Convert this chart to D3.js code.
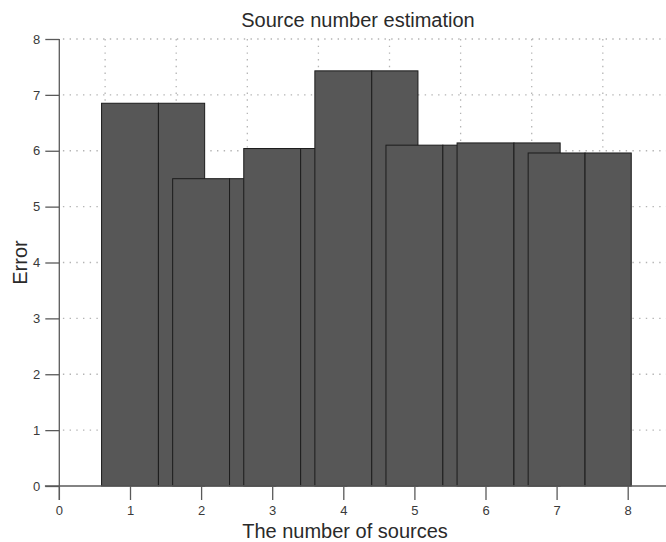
<!DOCTYPE html>
<html>
<head>
<meta charset="utf-8">
<script src="https://cdn.jsdelivr.net/npm/d3@7/dist/d3.min.js"></script>
<style>
  html, body { margin: 0; padding: 0; background: #fff; }
  svg { display: block; font-family: "Liberation Sans", Arial, Helvetica, sans-serif; }
</style>
</head>
<body>
<svg id="chart" width="666" height="542"></svg>
<script>
// Estimated error for each candidate number of sources
const sourceCounts = [1, 2, 3, 4, 5, 6, 7];
const errors = [6.85, 5.50, 6.04, 7.43, 6.10, 6.14, 5.96];

const xTicks = [0, 1, 2, 3, 4, 5, 6, 7, 8];
const yTicks = [0, 1, 2, 3, 4, 5, 6, 7, 8];

const titleText = "Source number estimation";
const xLabelText = "The number of sources";
const yLabelText = "Error";

const W = 666, H = 542;
const svg = d3.select("#chart");

const x = d3.scaleLinear().domain([0, 8]).range([58.9, 627.7]);
const y = d3.scaleLinear().domain([0, 8]).range([486, 39]);

const tickLen = 14;
const axisColor = "#5a5a5a";
const gridColor = "#b4b4b4";

// Grid: horizontal lines at the y ticks, vertical lines at a fixed offset from the x ticks
const gridOffset = 0.65;
const grid = svg.append("g");
grid.selectAll("line.h").data(yTicks.filter(d => d > 0)).join("line")
  .attr("x1", x(0) + 4).attr("x2", W)
  .attr("y1", d => y(d)).attr("y2", d => y(d))
  .attr("stroke", gridColor).attr("stroke-width", 1.3)
  .attr("stroke-dasharray", "1.4,5.3");
grid.selectAll("line.v").data(xTicks.slice(0, -1)).join("line")
  .attr("x1", d => x(d + gridOffset)).attr("x2", d => x(d + gridOffset))
  .attr("y1", y(8)).attr("y2", y(0))
  .attr("stroke", gridColor).attr("stroke-width", 1.3)
  .attr("stroke-dasharray", "1.4,5.3");

// Bars: a main block of width 0.8 around each count plus a trailing block,
// drawn in order so each later bar overlaps the previous one
const halfWidth = 0.4, tailEnd = 1.05;
const bars = svg.append("g");
sourceCounts.forEach((k, i) => {
  const v = errors[i];
  const pieces = [[k - halfWidth, k + halfWidth], [k + halfWidth, k + tailEnd]];
  pieces.forEach(([a, b]) => {
    bars.append("rect")
      .attr("x", x(a)).attr("width", x(b) - x(a))
      .attr("y", y(v)).attr("height", y(0) - y(v))
      .attr("fill", "#575757")
      .attr("stroke", "#1c1c1c").attr("stroke-width", 1);
  });
});

// Axes
const yAxis = d3.axisLeft(y).tickValues(yTicks).tickSize(tickLen).tickSizeOuter(0).tickPadding(5);
const gy = svg.append("g").attr("transform", `translate(${x(0) + 0.4},0)`).call(yAxis);
gy.select(".domain").remove();
gy.append("line").attr("x1", 0).attr("x2", 0).attr("y1", y(8)).attr("y2", y(0) + tickLen)
  .attr("stroke", axisColor).attr("stroke-width", 1.3);

const xAxis = d3.axisBottom(x).tickValues(xTicks).tickSize(tickLen).tickSizeOuter(0).tickPadding(6);
const gx = svg.append("g").attr("transform", `translate(0,${y(0)})`).call(xAxis);
gx.select(".domain").remove();
gx.append("line").attr("x1", x(0) - tickLen).attr("x2", W).attr("y1", 0).attr("y2", 0)
  .attr("stroke", axisColor).attr("stroke-width", 1.3);

[gx, gy].forEach(g => {
  g.selectAll(".tick line").attr("stroke", axisColor).attr("stroke-width", 1.3);
  g.selectAll(".tick text").attr("fill", "#3a3a3a")
    .style("font-size", "13px")
    .style("font-family", "'Liberation Sans', Arial, sans-serif");
});

// Titles
svg.append("text").attr("x", 358).attr("y", 27).attr("text-anchor", "middle")
  .attr("fill", "#2a2a2a").style("font-size", "20px").text(titleText);
svg.append("text").attr("x", 345).attr("y", 538).attr("text-anchor", "middle")
  .attr("fill", "#2a2a2a").style("font-size", "20px").text(xLabelText);
svg.append("text").attr("transform", `translate(27,${(y(0) + y(8)) / 2}) rotate(-90)`)
  .attr("text-anchor", "middle").attr("fill", "#2a2a2a").style("font-size", "20px").text(yLabelText);
</script>
</body>
</html>
